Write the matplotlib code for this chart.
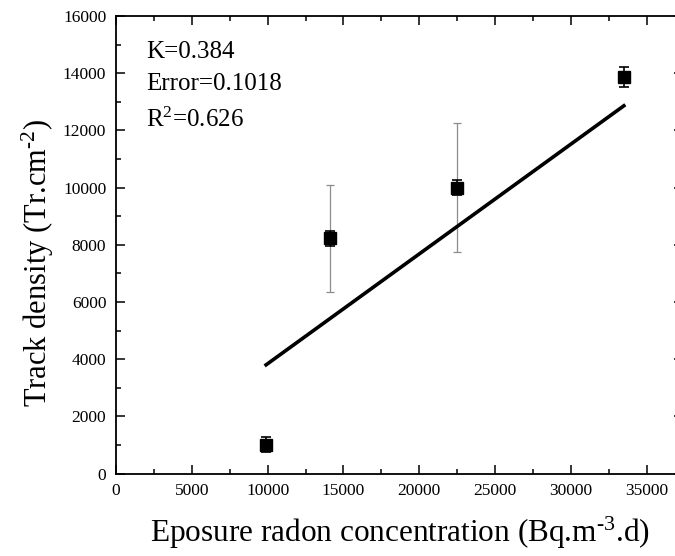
import matplotlib
matplotlib.use('Agg')
import matplotlib.pyplot as plt
from matplotlib.ticker import MultipleLocator

plt.rcParams['font.family'] = ['Liberation Serif', 'DejaVu Serif']
plt.rcParams['mathtext.fontset'] = 'custom'
plt.rcParams['mathtext.rm'] = 'Liberation Serif'
plt.rcParams['mathtext.it'] = 'Liberation Serif:italic'

# exposure (Bq.m-3.d) vs track density (Tr.cm-2)
exposure = [9900, 14100, 22500, 33500]
density = [1000, 8220, 10000, 13870]
err_black = [265, 250, 250, 340]
err_gray = [0, 1880, 2270, 0]

# fitted line end points
fit_x = [9900, 33500]
fit_y = [3800, 12860]

fit_text = ['K=0.384', 'Error=0.1018', r'R$^{2}$=0.626']
text_y = [0.9075, 0.838, 0.758]

fig = plt.figure(figsize=(6.75, 5.56), dpi=100)
xmax = 37400
ax = fig.add_axes([116 / 675, 82.5 / 556, xmax * 0.01516 / 675, 457.5 / 556])

ax.errorbar(exposure, density, yerr=err_gray, fmt='none', ecolor='#8c8c8c',
            elinewidth=0.9, capsize=3, capthick=0.9, zorder=2)
ax.errorbar(exposure, density, yerr=err_black, fmt='none', ecolor='black',
            elinewidth=1.2, capsize=3.5, capthick=1.2, zorder=3)
ax.plot(exposure, density, 's', color='black', markersize=8, zorder=4)
ax.plot(fit_x, fit_y, color='black', linewidth=2.6, zorder=3)

ax.set_xlim(0, xmax)
ax.set_ylim(0, 16000)
ax.xaxis.set_major_locator(MultipleLocator(5000))
ax.xaxis.set_minor_locator(MultipleLocator(2500))
ax.yaxis.set_major_locator(MultipleLocator(2000))
ax.yaxis.set_minor_locator(MultipleLocator(1000))
ax.tick_params(which='both', direction='in', top=True, right=True,
               labelsize=12.5, width=1.1)
ax.tick_params(which='major', length=6.7, pad=7)
ax.tick_params(which='minor', length=3.6)
for s in ax.spines.values():
    s.set_linewidth(1.3)
ax.spines['right'].set_visible(False)

ax.set_xlabel(r'Eposure radon concentration (Bq.m$^{\text{-3}}$.d)', fontsize=22.5, labelpad=11)
ax.set_ylabel(r'Track density (Tr.cm$^{\text{-2}}$)', fontsize=22, labelpad=5)
ax.yaxis.label.set_y(0.46)

for t, ty in zip(fit_text, text_y):
    ax.text(0.053, ty, t, transform=ax.transAxes,
            fontsize=18, va='baseline', ha='left')

fig.savefig('out.png', dpi=100)
